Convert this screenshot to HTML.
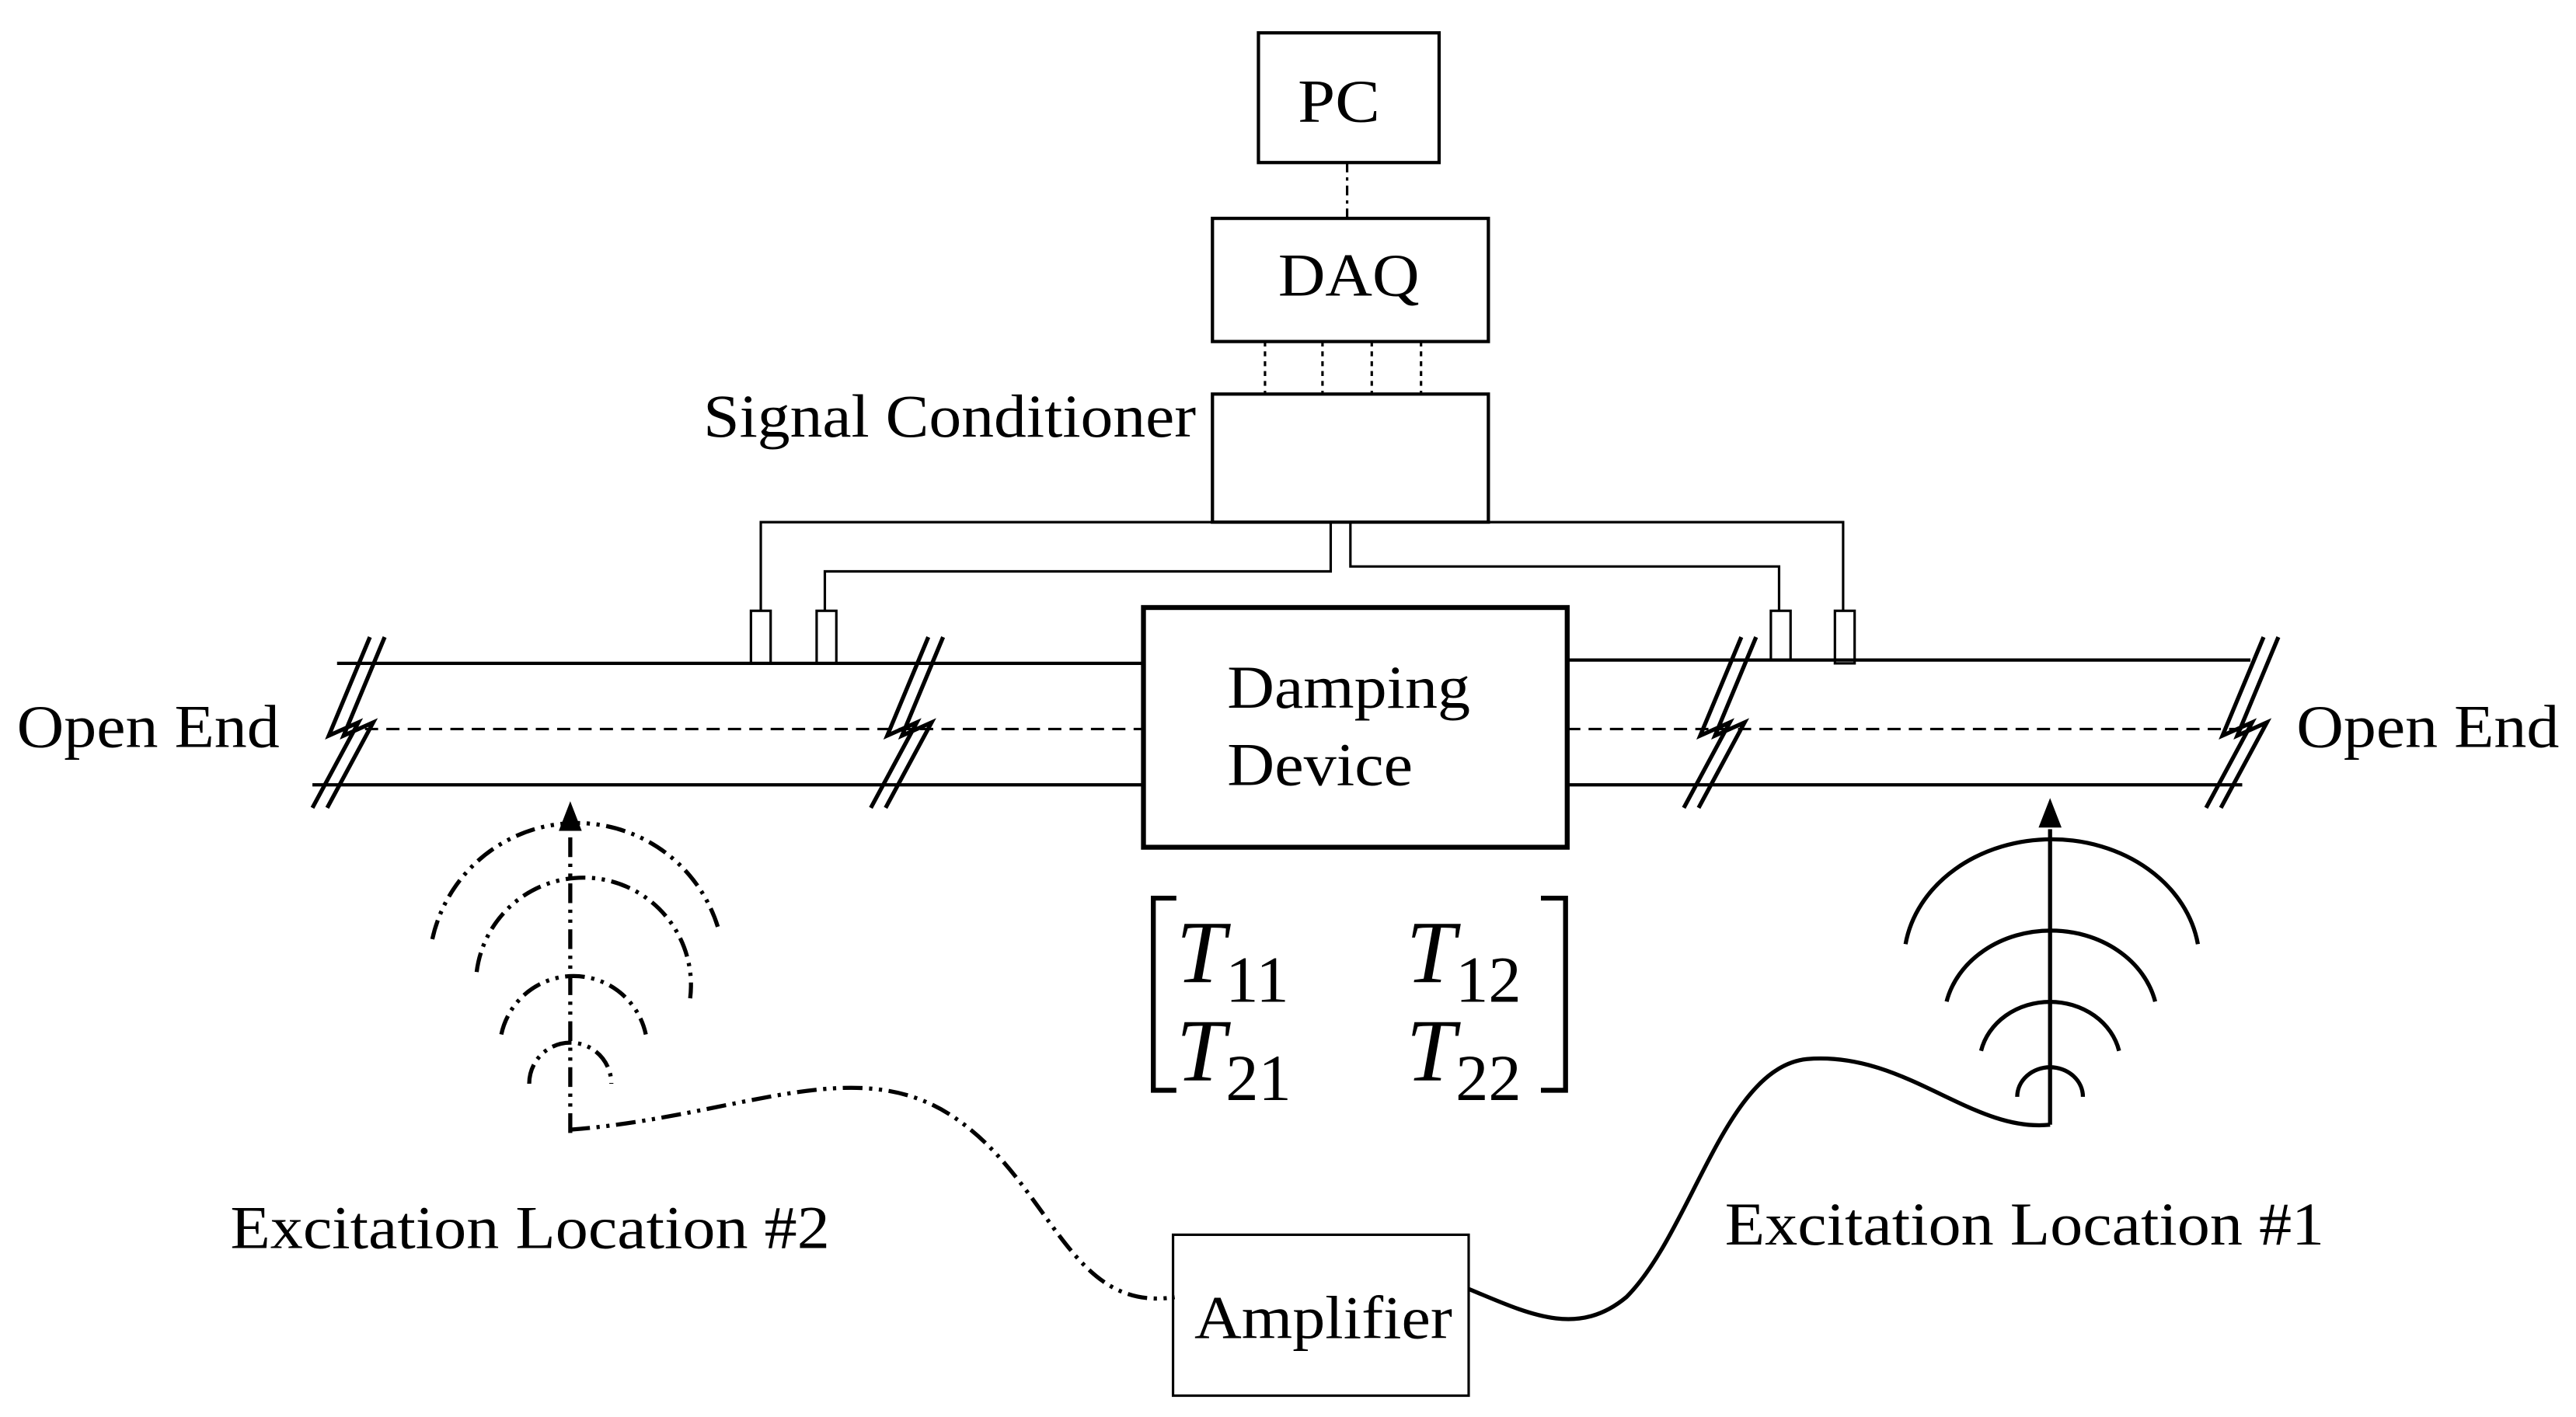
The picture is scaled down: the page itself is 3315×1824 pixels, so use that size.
<!DOCTYPE html>
<html><head><meta charset="utf-8"><style>
html,body{margin:0;padding:0;background:#fff}
svg{display:block}
text{font-family:"Liberation Serif",serif;fill:#000}
</style></head><body>
<svg width="3315" height="1824" viewBox="0 0 1568 863" xmlns="http://www.w3.org/2000/svg">
<g fill="none" stroke="#000" stroke-width="2">
<rect x="766" y="20" width="110" height="79"/>
<line x1="820" y1="99" x2="820" y2="133" stroke-dasharray="6,3,2,3" stroke-width="1.5"/>
<rect x="738" y="133" width="168" height="75"/>
<g stroke-dasharray="3,3" stroke-width="1.5">
<line x1="770" y1="208" x2="770" y2="240"/><line x1="805" y1="208" x2="805" y2="240"/>
<line x1="835" y1="208" x2="835" y2="240"/><line x1="865" y1="208" x2="865" y2="240"/>
</g>
<rect x="738" y="240" width="168" height="78"/>
<polyline points="463,372 463,318 1122,318 1122,372" stroke-width="1.5"/>
<polyline points="810,318 810,348 502,348 502,372" stroke-width="1.5"/>
<polyline points="822,318 822,345 1083,345 1083,372" stroke-width="1.5"/>
<rect x="457" y="372" width="12" height="32" stroke-width="1.5"/>
<rect x="497" y="372" width="12" height="32" stroke-width="1.5"/>
<rect x="1078" y="372" width="12" height="30" stroke-width="1.5"/>
<rect x="1117" y="372" width="12" height="32" stroke-width="1.5"/>
<line x1="205" y1="404" x2="696" y2="404"/><line x1="190" y1="478" x2="696" y2="478"/>
<line x1="954" y1="402" x2="1370" y2="402"/><line x1="954" y1="478" x2="1365" y2="478"/>
<line x1="222" y1="444" x2="696" y2="444" stroke-dasharray="8,5" stroke-width="1.5"/>
<line x1="954" y1="444" x2="1370" y2="444" stroke-dasharray="8,5" stroke-width="1.5"/>
<g stroke-width="2.5">
<path d="M225,388 L200,448 L218,440 L190,492"/><path d="M234,388 L209,448 L227,440 L199,492"/>
<path d="M565,388 L540,448 L558,440 L530,492"/><path d="M574,388 L549,448 L567,440 L539,492"/>
<path d="M1060,388 L1035,448 L1053,440 L1025,492"/><path d="M1069,388 L1044,448 L1062,440 L1034,492"/>
<path d="M1378,388 L1353,448 L1371,440 L1343,492"/><path d="M1387,388 L1362,448 L1380,440 L1352,492"/>
</g>
<rect x="696" y="370" width="258" height="146" stroke-width="3"/>
<path d="M716,547 L702,547 L702,664 L716,664" stroke-width="3"/>
<path d="M938,547 L953,547 L953,664 L938,664" stroke-width="3"/>
<g stroke-dasharray="12,4,2,4,2,4" stroke-width="2.5">
<line x1="347" y1="690" x2="347" y2="505"/>
<path d="M263,572 A90,90 0 0 1 437,565"/>
<path d="M290,592 A65,65 0 0 1 420,608"/>
<path d="M305,630 A45,45 0 0 1 393,630"/>
<path d="M322,660 A25,25 0 0 1 372,660"/>
<path d="M347,688 C450,680 520,640 580,680 C640,720 650,800 715,790"/>
</g>
<line x1="1248" y1="685" x2="1248" y2="505" stroke-width="2.5"/>
<g stroke-width="2.5">
<path d="M1160,575 A90,75 0 0 1 1338,575"/>
<path d="M1185,610 A65,55 0 0 1 1312,610"/>
<path d="M1206,640 A43,38 0 0 1 1290,640"/>
<path d="M1228,668 A20,18 0 0 1 1268,668"/>
<path d="M894,785 C930,800 960,815 990,790 C1030,750 1050,650 1100,645 C1160,640 1200,690 1248,685"/>
</g>
<rect x="714" y="752" width="180" height="98" stroke-width="1.5"/>
</g>
<path d="M347,488 L340,506 L354,506 Z"/><path d="M1248,486 L1241,504 L1255,504 Z"/>
<g font-size="37" lengthAdjust="spacingAndGlyphs">
<text x="790" y="74" textLength="50" lengthAdjust="spacingAndGlyphs">PC</text>
<text x="778" y="180" textLength="86" lengthAdjust="spacingAndGlyphs">DAQ</text>
<text x="428" y="266" textLength="300" lengthAdjust="spacingAndGlyphs">Signal Conditioner</text>
<text x="747" y="431" textLength="148" lengthAdjust="spacingAndGlyphs">Damping</text>
<text x="747" y="478" textLength="113" lengthAdjust="spacingAndGlyphs">Device</text>
<text x="10" y="455" textLength="160" lengthAdjust="spacingAndGlyphs">Open End</text>
<text x="1398" y="455" textLength="160" lengthAdjust="spacingAndGlyphs">Open End</text>
<text x="140" y="760" textLength="365" lengthAdjust="spacingAndGlyphs">Excitation Location #2</text>
<text x="1050" y="758" textLength="365" lengthAdjust="spacingAndGlyphs">Excitation Location #1</text>
<text x="727" y="815" textLength="157" lengthAdjust="spacingAndGlyphs">Amplifier</text>
</g>
<g font-size="54" font-style="italic">
<text x="716" y="598">T<tspan font-size="40" font-style="normal" dy="12">11</tspan></text>
<text x="856" y="598">T<tspan font-size="40" font-style="normal" dy="12">12</tspan></text>
<text x="716" y="658">T<tspan font-size="40" font-style="normal" dy="12">21</tspan></text>
<text x="856" y="658">T<tspan font-size="40" font-style="normal" dy="12">22</tspan></text>
</g>
</svg>
</body></html>
